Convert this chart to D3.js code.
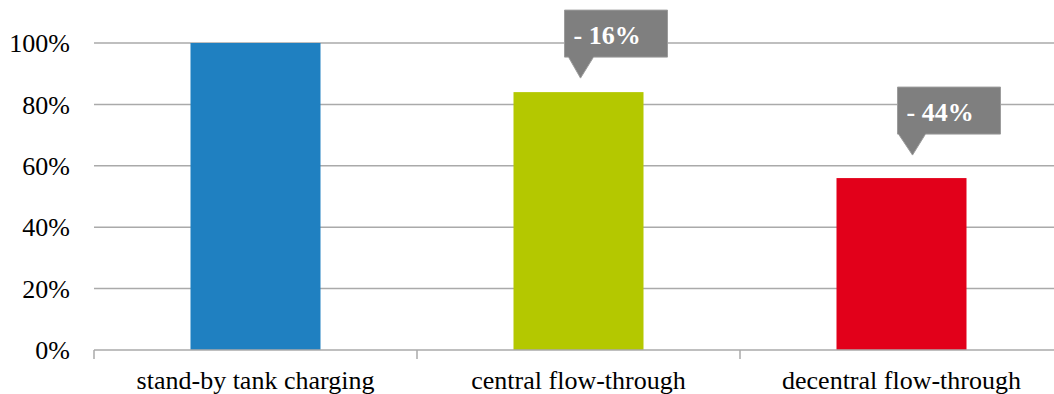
<!DOCTYPE html>
<html>
<head>
<meta charset="utf-8">
<script src="https://cdn.jsdelivr.net/npm/d3@7"></script>
<style>
  html, body { margin: 0; padding: 0; background: #ffffff; }
  svg { display: block; }
  svg text { font-family: "Liberation Serif", "Times New Roman", Times, "DejaVu Serif", serif; }
</style>
</head>
<body>
<svg id="chart" width="1054" height="394"></svg>
<script>
// Relative consumption per charging concept (share of stand-by tank charging)
const categories = ["stand-by tank charging", "central flow-through", "decentral flow-through"];
const values = [100, 84, 56];
const barColors = ["#1f80c1", "#b4c800", "#e2001a"];
const yTicks = [0, 20, 40, 60, 80, 100];

// Savings callouts: which bar they point at and their text
const calloutBars = [1, 2];
const calloutLabels = ["- 16%", "- 44%"];

const svg = d3.select("#chart");
const margin = { left: 94, right: -9, top: 43, bottom: 44 };
const W = 1054, H = 394;

const x = d3.scaleBand()
  .domain(categories)
  .range([margin.left, W - margin.right])
  .paddingInner(0)
  .paddingOuter(0);

const y = d3.scaleLinear()
  .domain([0, 100])
  .range([H - margin.bottom, margin.top]);

const barWidth = 130;

// horizontal gridlines
svg.append("g")
  .selectAll("line")
  .data(yTicks.filter(d => d > 0))
  .join("line")
  .attr("x1", margin.left)
  .attr("x2", W)
  .attr("y1", d => y(d))
  .attr("y2", d => y(d))
  .attr("stroke", "#aaaaaa")
  .attr("stroke-width", 1.5);

// y tick labels
svg.append("g")
  .selectAll("text")
  .data(yTicks)
  .join("text")
  .attr("x", 70)
  .attr("y", d => y(d))
  .attr("dy", "0.35em")
  .attr("text-anchor", "end")
  .style("font-size", "26px")
  .attr("fill", "#000")
  .text(d => d + "%");

// bars
svg.append("g")
  .selectAll("rect")
  .data(categories)
  .join("rect")
  .attr("x", d => x(d) + x.bandwidth() / 2 - barWidth / 2)
  .attr("width", barWidth)
  .attr("y", (d, i) => y(values[i]))
  .attr("height", (d, i) => y(0) - y(values[i]))
  .attr("fill", (d, i) => barColors[i]);

// category axis with tick marks between the categories
const axisG = svg.append("g");
axisG.append("line")
  .attr("x1", margin.left).attr("x2", W)
  .attr("y1", y(0)).attr("y2", y(0))
  .attr("stroke", "#aaaaaa").attr("stroke-width", 1.5);
axisG.selectAll("line.tick")
  .data(categories)
  .join("line")
  .attr("class", "tick")
  .attr("x1", d => x(d)).attr("x2", d => x(d))
  .attr("y1", y(0)).attr("y2", y(0) + 9)
  .attr("stroke", "#aaaaaa").attr("stroke-width", 1.5);
axisG.selectAll("text")
  .data(categories)
  .join("text")
  .attr("x", d => x(d) + x.bandwidth() / 2)
  .attr("y", 389)
  .attr("text-anchor", "middle")
  .style("font-size", "26px")
  .attr("fill", "#000")
  .text(d => d);

// callout geometry relative to the bar it points at
const calloutLayout = [
  { boxDx: -14, tipDx: 2, tipGap: 14, tailL: 4, tailR: 29 },
  { boxDx: -4, tipDx: 11, tipGap: 23, tailL: 1, tailR: 28 }
];
const boxW = 103, boxH = 47, tailH = 21;

calloutBars.forEach((bi, k) => {
  const L = calloutLayout[k];
  const cx = x(categories[bi]) + x.bandwidth() / 2;
  const tipX = cx + L.tipDx;
  const tipY = y(values[bi]) - L.tipGap;
  const bottom = tipY - tailH;
  const top = bottom - boxH;
  const left = cx + L.boxDx;
  const right = left + boxW;
  const p = d3.path();
  p.moveTo(left, top);
  p.lineTo(right, top);
  p.lineTo(right, bottom);
  p.lineTo(left + L.tailR, bottom);
  p.lineTo(tipX, tipY);
  p.lineTo(left + L.tailL, bottom);
  p.lineTo(left, bottom);
  p.closePath();
  svg.append("path")
    .attr("d", p.toString())
    .attr("fill", "#7f7f7f")
    .attr("stroke", "#9c9c9c")
    .attr("stroke-width", 1);
  svg.append("text")
    .attr("x", left + 9)
    .attr("y", top + 34)
    .style("font-weight", "bold")
    .style("font-size", "26px")
    .attr("fill", "#ffffff")
    .text(calloutLabels[k]);
});
</script>
</body>
</html>
